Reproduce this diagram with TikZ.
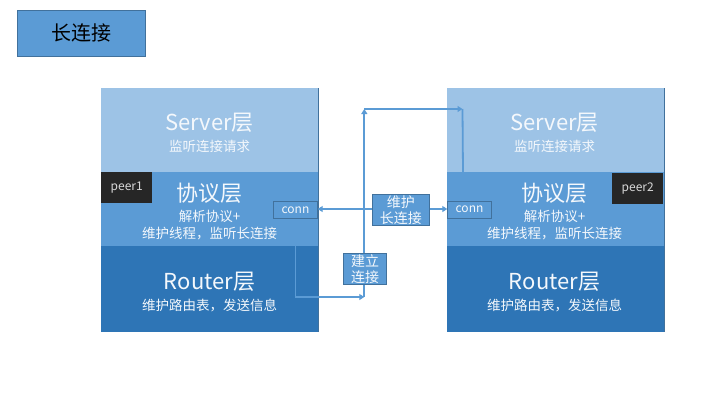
\documentclass[tikz,border=0pt]{standalone}
\usepackage{fontspec}
\setmainfont{Noto Sans CJK SC}
\usetikzlibrary{arrows.meta}
\definecolor{lt}{HTML}{9DC3E6}
\definecolor{md}{HTML}{5B9BD5}
\definecolor{dk}{HTML}{2E75B6}
\definecolor{edge}{HTML}{41719C}
\definecolor{peerc}{HTML}{262626}
\definecolor{txt}{HTML}{F4F8FC}
\begin{document}
\begin{tikzpicture}[x=1pt,y=-1pt,
  layer/.style={draw=none, minimum width=217pt, inner sep=0pt, anchor=north west},
  bigt/.style={text=txt, inner sep=0pt, font=\fontsize{22}{26}\selectfont},
  smallt/.style={text=txt, inner sep=0pt, align=center, font=\fontsize{13.5}{16.5}\selectfont},
  peerbox/.style={fill=peerc, text=white!85!black, minimum width=51pt, minimum height=31pt, inner sep=0pt, anchor=north west, font=\fontsize{12}{14}\selectfont},
  connbox/.style={fill=md, draw=edge, line width=0.9pt, text=txt, minimum width=43.5pt, minimum height=17pt, inner sep=0pt, anchor=north west, font=\fontsize{12}{14}\selectfont},
  lblbox/.style={fill=md, draw=edge, line width=0.9pt, text=txt, inner sep=0pt, align=center, font=\fontsize{14}{16}\selectfont},
  link/.style={draw=md, line width=1.8pt, -{Triangle[length=5pt,width=6pt]}},
  plainlink/.style={draw=md, line width=1.8pt},
  edgeline/.style={draw=edge, line width=0.8pt}
]
\useasboundingbox (0,0) rectangle (720,405);

% title
\node[fill=md, draw=edge, line width=1pt, minimum width=128pt, minimum height=46pt, inner sep=0pt,
      font=\fontsize{20}{24}\selectfont, text=black] (title) at (81,33) {长连接};

% left stack
\node[layer, fill=lt, minimum height=84pt] (LS) at (101,88) {};
\node[layer, fill=md, minimum height=73.5pt] (LP) at (101,172) {};
\node[layer, fill=dk, minimum height=86.5pt] (LR) at (101,245.5) {};
\draw[edgeline] (LS.north east) -- (LR.south east);

% right stack
\node[layer, fill=lt, minimum height=84pt] (RS) at (446.5,88) {};
\node[layer, fill=md, minimum height=73.5pt] (RP) at (446.5,172) {};
\node[layer, fill=dk, minimum height=86.5pt] (RR) at (446.5,245.5) {};
\draw[edgeline] (RS.north east) -- (RR.south east);

% left texts
\node[bigt] (LSt) at (209.5,123) {Server层};
\node[smallt] (LSs) at (209.5,146) {监听连接请求};
\node[bigt] (LPt) at (209.5,193) {协议层};
\node[smallt] (LPs) at (209.5,225) {解析协议+\\维护线程，监听长连接};
\node[bigt] (LRt) at (209.5,282) {Router层};
\node[smallt] (LRs) at (209.5,305) {维护路由表，发送信息};

% right texts
\node[bigt] (RSt) at (554.5,123) {Server层};
\node[smallt] (RSs) at (554.5,146) {监听连接请求};
\node[bigt] (RPt) at (554.5,193) {协议层};
\node[smallt] (RPs) at (554.5,225) {解析协议+\\维护线程，监听长连接};
\node[bigt] (RRt) at (554.5,282) {Router层};
\node[smallt] (RRs) at (554.5,305) {维护路由表，发送信息};

% peers
\node[peerbox] (peer1) at (101,172) {peer1};
\node[peerbox] (peer2) at (612,172.5) {peer2};

% conn boxes
\node[connbox] (connL) at (273.3,201.3) {conn};
\node[connbox] (connR) at (447.3,200.5) {conn};

% connector points
\coordinate (j1) at (364.3,297);
\coordinate (j2) at (364.3,109);
\coordinate (j3) at (462.5,109);
\coordinate (j4) at (463,172);

% connectors
\draw[link] (connL.south) |- (j1);
\draw[link] (j1) -- (j2);
\draw[link] (j2) -- (j3);
\draw[plainlink] (j4) -- (j3.center);
\draw[draw=md, line width=1.8pt, {Triangle[length=5pt,width=6pt]}-{Triangle[length=5pt,width=6pt]}]
  (connL.east |- 0,209) -- (connR.west |- 0,209);

% label boxes
\node[lblbox, minimum width=57pt, minimum height=31pt] (keep) at (400.8,209.8) {维护\\长连接};
\node[lblbox, minimum width=43.5pt, minimum height=31pt] (build) at (365,268.7) {建立\\连接};
\end{tikzpicture}
\end{document}
